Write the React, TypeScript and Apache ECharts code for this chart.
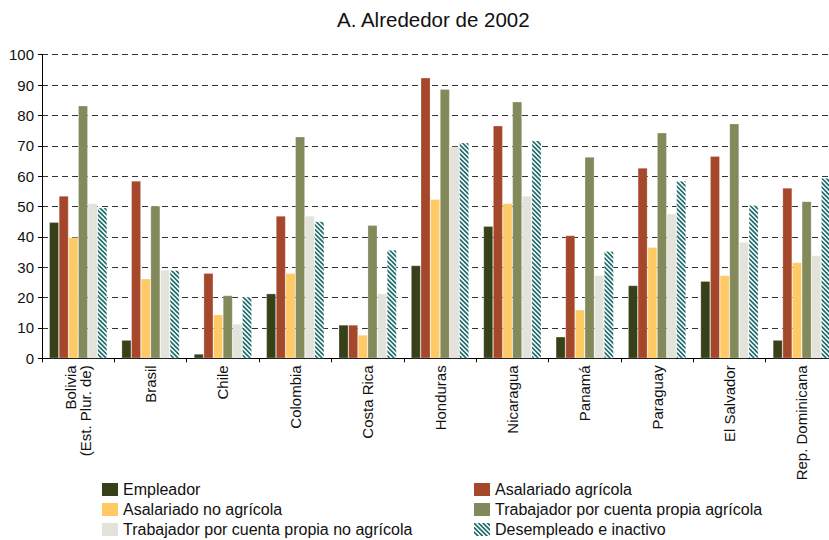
import React, { useEffect, useRef } from "react";
import * as echarts from "echarts";

const categories = [
  "Bolivia\n(Est. Plur. de)",
  "Brasil",
  "Chile",
  "Colombia",
  "Costa Rica",
  "Honduras",
  "Nicaragua",
  "Panamá",
  "Paraguay",
  "El Salvador",
  "Rep. Dominicana",
];

const seriesNames = [
  "Empleador",
  "Asalariado agrícola",
  "Asalariado no agrícola",
  "Trabajador por cuenta propia agrícola",
  "Trabajador por cuenta propia no agrícola",
  "Desempleado e inactivo",
];

const empleador = [44.8, 6.0, 1.4, 21.3, 11.0, 30.6, 43.5, 7.1, 24.0, 25.4, 6.0];
const asalariadoAgricola = [53.5, 58.4, 28.0, 46.9, 11.0, 92.4, 76.6, 40.5, 62.7, 66.6, 56.1];
const asalariadoNoAgricola = [39.8, 26.2, 14.4, 28.0, 7.7, 52.4, 51.0, 16.0, 36.6, 27.3, 31.6];
const cuentaPropiaAgricola = [83.2, 50.2, 20.7, 73.0, 43.8, 88.6, 84.5, 66.3, 74.3, 77.3, 51.7];
const cuentaPropiaNoAgricola = [51.0, 29.1, 11.3, 46.9, 21.3, 69.7, 53.5, 27.3, 47.6, 38.3, 33.9];
const desempleado = [49.6, 29.0, 20.3, 45.1, 35.7, 71.0, 71.7, 35.3, 58.4, 50.4, 59.4];

const yTicks = { min: 0, max: 100, interval: 10 };

const colors = ["#374119", "#a5472a", "#ffc966", "#82895a", "#e3e3db"];
const FONT = "'Liberation Sans', Arial, sans-serif";

function makeHatch(): HTMLCanvasElement {
  const c = document.createElement("canvas");
  const s = 9;
  const p = 4.5;
  c.width = s;
  c.height = s;
  const ctx = c.getContext("2d")!;
  ctx.fillStyle = "#ffffff";
  ctx.fillRect(0, 0, s, s);
  ctx.strokeStyle = "#1d6a6a";
  ctx.lineWidth = 1.6;
  for (let k = -s; k <= s; k += p) {
    ctx.beginPath();
    ctx.moveTo(k - 1, -1);
    ctx.lineTo(k + s + 1, s + 1);
    ctx.stroke();
  }
  return c;
}

export default function App() {
  const ref = useRef<HTMLDivElement>(null);
  useEffect(() => {
    if (!ref.current) return;
    const chart = echarts.init(ref.current, null, { renderer: "svg" });
    const hatch = makeHatch();
    const dataSets = [
      empleador,
      asalariadoAgricola,
      asalariadoNoAgricola,
      cuentaPropiaAgricola,
      cuentaPropiaNoAgricola,
      desempleado,
    ];
    const series = dataSets.map((d, i) => ({
      name: seriesNames[i],
      type: "bar",
      data: d,
      barGap: "0%",
      barCategoryGap: "20%",
      itemStyle: {
        color: i < 5 ? colors[i] : { image: hatch, repeat: "repeat" },
        borderColor: "rgba(255,255,255,0.45)",
        borderWidth: 0.6,
      },
    }));
    const legendCommon = {
      orient: "vertical",
      top: 481.5,
      padding: 0,
      itemGap: 4,
      itemWidth: 16,
      itemHeight: 13,
      icon: "rect",
      itemStyle: { borderWidth: 0 },
      textStyle: { fontFamily: FONT, fontSize: 16, color: "#111", lineHeight: 16 },
    };
    chart.setOption({
      animation: false,
      textStyle: { fontFamily: FONT },
      title: {
        text: "A. Alrededor de 2002",
        left: 337,
        top: 9,
        padding: 0,
        textStyle: { fontFamily: FONT, fontSize: 20.5, fontWeight: "normal", color: "#111" },
      },
      legend: [
        { ...legendCommon, left: 102, data: [seriesNames[0], seriesNames[2], seriesNames[4]] },
        { ...legendCommon, left: 474, data: [seriesNames[1], seriesNames[3], seriesNames[5]] },
      ],
      grid: { left: 42, right: 22, top: 54.7, bottom: 181.7, containLabel: false },
      xAxis: {
        type: "category",
        data: categories,
        axisLine: { show: true, lineStyle: { color: "#000", width: 1 } },
        axisTick: { show: true, length: 4, alignWithLabel: false, lineStyle: { color: "#000" } },
        axisLabel: {
          interval: 0,
          rotate: 90,
          margin: 7,
          fontFamily: FONT,
          fontSize: 15,
          color: "#111",
          lineHeight: 15,
        },
      },
      yAxis: {
        type: "value",
        min: yTicks.min,
        max: yTicks.max,
        interval: yTicks.interval,
        axisLine: { show: true, lineStyle: { color: "#000", width: 1 } },
        axisTick: { show: true, length: 4, lineStyle: { color: "#000" } },
        axisLabel: { margin: 8, fontFamily: FONT, fontSize: 15, color: "#111" },
        splitLine: {
          show: true,
          lineStyle: { color: "#333", type: [6, 4], width: 1 },
        },
      },
      series,
    });
    return () => chart.dispose();
  }, []);
  return (
    <div
      style={{
        position: "absolute",
        left: 0,
        top: 0,
        width: 829,
        height: 540,
        overflow: "hidden",
      }}
    >
      <div ref={ref} style={{ width: 860, height: 540 }} />
    </div>
  );
}
